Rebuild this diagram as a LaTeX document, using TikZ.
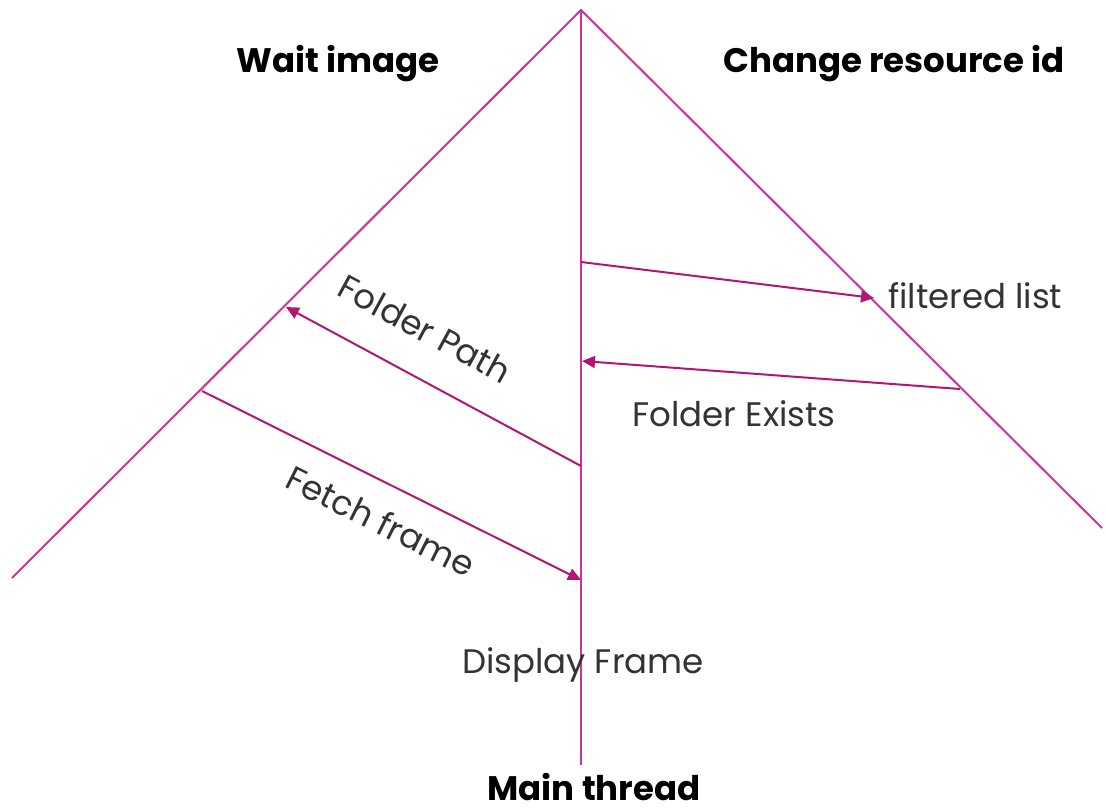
\documentclass[tikz,border=0pt]{standalone}
\usepackage{fontspec}
\setmainfont{Poppins}
\usetikzlibrary{arrows.meta}
\definecolor{linepink}{RGB}{206,50,150}
\definecolor{arrowpink}{RGB}{178,22,112}
\tikzset{
  frame/.style={draw=linepink, line width=2pt},
  msg/.style={draw=arrowpink, line width=2pt, -{Triangle[length=13pt,width=12pt]}},
  title/.style={font=\fontsize{34}{38}\selectfont\bfseries, text=black, inner sep=0pt},
  lbl/.style={font=\fontsize{34}{38}\selectfont, text=black!80, inner sep=0pt}
}
\begin{document}
\begin{tikzpicture}[x=1pt,y=-1pt]
\useasboundingbox (0,0) rectangle (1106,809);
\coordinate (apex) at (581,10);
\coordinate (lend) at (12,578);
\coordinate (rend) at (1102,528);
\coordinate (bot) at (581,765);
\draw[frame] (lend) -- (apex) -- (rend);
\draw[frame] (apex) -- (bot);
% arrow endpoints
\coordinate (a1s) at (581,262);
\coordinate (a1e) at (874,298);
\coordinate (a2s) at (960,389);
\coordinate (a2e) at (582,361);
\coordinate (a3s) at (581,466);
\coordinate (a3e) at (286,307);
\coordinate (a4s) at (202,391);
\coordinate (a4e) at (581,580);
\draw[msg] (a1s) -- (a1e);
\draw[msg] (a2s) -- (a2e);
\draw[msg] (a3s) -- (a3e);
\draw[msg] (a4s) -- (a4e);
\node[title] (wait) at (338,64) {Wait image};
\node[title] (change) at (894,64) {Change resource id};
\node[title] (main) at (594,787) {Main thread};
\node[lbl, anchor=west] (filt) at (888,296) {filtered list};
\node[lbl] (exists) at (734,414) {Folder Exists};
\node[lbl] (disp) at (583,665) {Display Frame};
\node[lbl, rotate=-28.5] (path) at (425,329) {Folder Path};
\node[lbl, rotate=-26.6] (fetch) at (381,521) {Fetch frame};
\end{tikzpicture}
\end{document}
